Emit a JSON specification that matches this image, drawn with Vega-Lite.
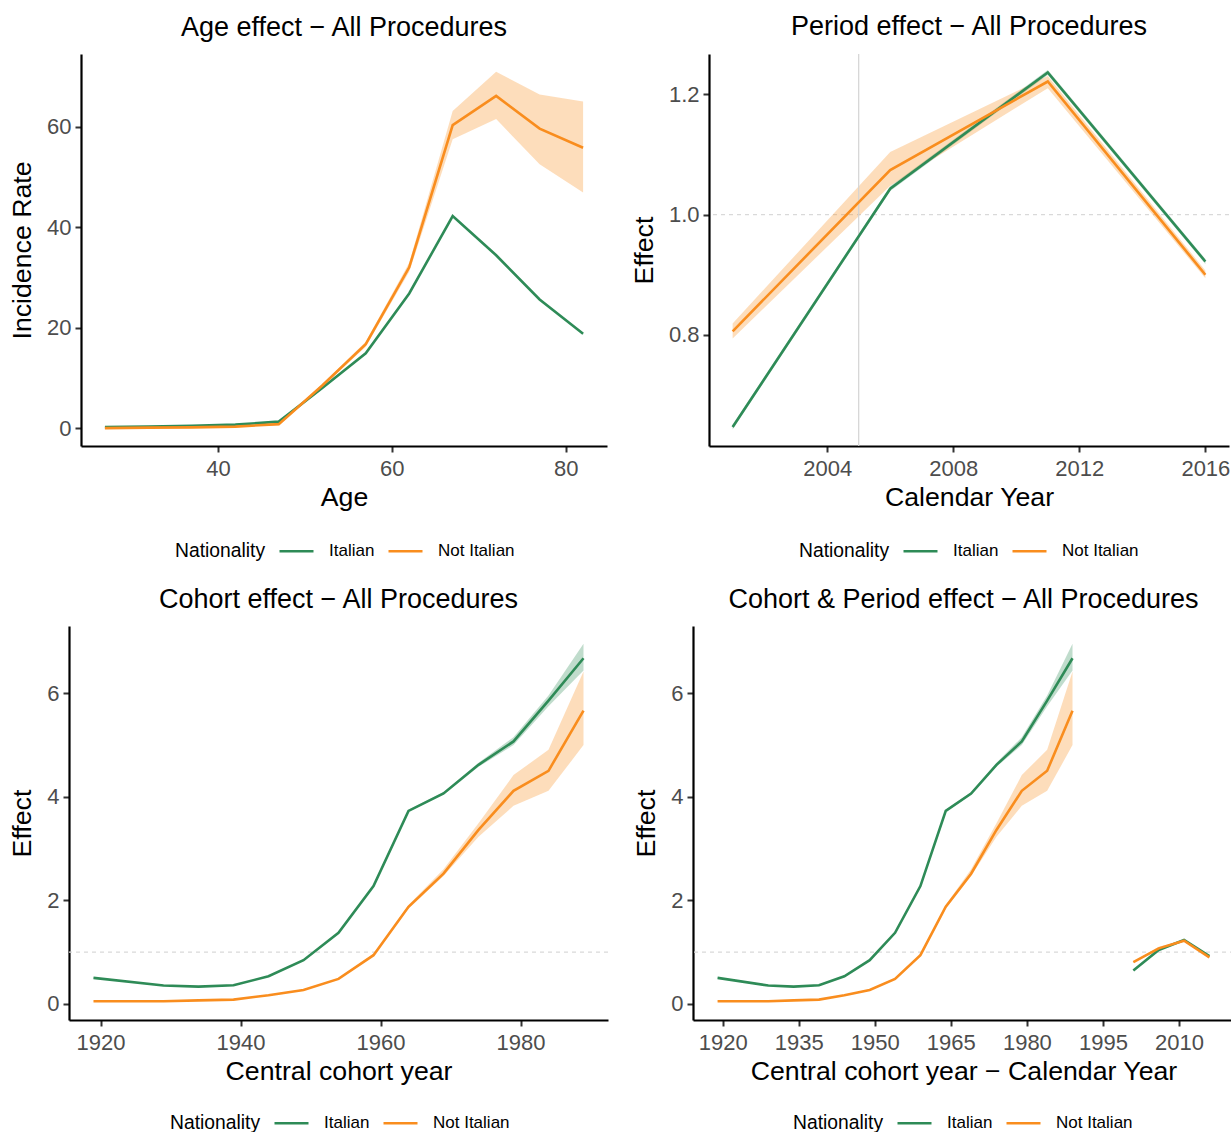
{
  "$schema": "https://vega.github.io/schema/vega-lite/v6.json",
  "padding": {"left": 0, "top": 13, "right": 0, "bottom": 0},
  "background": "white",
  "config": {
    "font": "Liberation Sans",
    "view": {"stroke": null},
    "axis": {"domainColor": "black", "domainWidth": 2.2, "tickColor": "#333333", "tickWidth": 2, "tickSize": 6, "labelFont": "Liberation Sans", "labelFontSize": 22, "labelColor": "#4D4D4D", "labelPadding": 4, "titleFont": "Liberation Sans", "titleFontSize": 26.7, "titleFontWeight": "normal", "titleColor": "black", "titlePadding": 10, "grid": false},
    "axisX": {"titlePadding": 5, "labelPadding": 6},
    "title": {"font": "Liberation Sans", "fontSize": 27, "fontWeight": "normal", "color": "black", "anchor": "middle", "offset": 12, "baseline": "alphabetic"},
    "legend": {"orient": "none", "direction": "horizontal", "titleOrient": "left", "titleFont": "Liberation Sans", "titleFontSize": 19.3, "titleFontWeight": "normal", "titleColor": "black", "titlePadding": 12, "titleBaseline": "line-top", "titleLineHeight": 11, "labelFont": "Liberation Sans", "labelFontSize": 17, "labelColor": "black", "labelOffset": 14, "columnPadding": 8, "symbolType": "stroke", "symbolSize": 1156, "symbolStrokeWidth": 2.7}
  },
  "datasets": {
    "spacer": [{}],
    "age": [
      {"Nationality": "Italian", "Age": 27, "Rate": 0.2, "Lower": 0.15, "Upper": 0.25},
      {"Nationality": "Italian", "Age": 32, "Rate": 0.3, "Lower": 0.25, "Upper": 0.35},
      {"Nationality": "Italian", "Age": 37, "Rate": 0.45, "Lower": 0.4, "Upper": 0.5},
      {"Nationality": "Italian", "Age": 42, "Rate": 0.7, "Lower": 0.65, "Upper": 0.75},
      {"Nationality": "Italian", "Age": 47, "Rate": 1.3, "Lower": 1.2, "Upper": 1.4},
      {"Nationality": "Italian", "Age": 52, "Rate": 8.0, "Lower": 7.8, "Upper": 8.2},
      {"Nationality": "Italian", "Age": 57, "Rate": 14.9, "Lower": 14.7, "Upper": 15.1},
      {"Nationality": "Italian", "Age": 62, "Rate": 26.8, "Lower": 26.6, "Upper": 27.0},
      {"Nationality": "Italian", "Age": 67, "Rate": 42.2, "Lower": 42.0, "Upper": 42.4},
      {"Nationality": "Italian", "Age": 72, "Rate": 34.4, "Lower": 34.2, "Upper": 34.6},
      {"Nationality": "Italian", "Age": 77, "Rate": 25.6, "Lower": 25.4, "Upper": 25.8},
      {"Nationality": "Italian", "Age": 82, "Rate": 18.8, "Lower": 18.6, "Upper": 19.0},
      {"Nationality": "Not Italian", "Age": 27, "Rate": 0.0, "Lower": -0.05, "Upper": 0.05},
      {"Nationality": "Not Italian", "Age": 32, "Rate": 0.1, "Lower": 0.05, "Upper": 0.15},
      {"Nationality": "Not Italian", "Age": 37, "Rate": 0.15, "Lower": 0.1, "Upper": 0.2},
      {"Nationality": "Not Italian", "Age": 42, "Rate": 0.3, "Lower": 0.2, "Upper": 0.4},
      {"Nationality": "Not Italian", "Age": 47, "Rate": 0.8, "Lower": 0.6, "Upper": 1.0},
      {"Nationality": "Not Italian", "Age": 52, "Rate": 8.5, "Lower": 8.2, "Upper": 8.8},
      {"Nationality": "Not Italian", "Age": 57, "Rate": 16.7, "Lower": 16.2, "Upper": 17.2},
      {"Nationality": "Not Italian", "Age": 62, "Rate": 32.0, "Lower": 31.1, "Upper": 32.9},
      {"Nationality": "Not Italian", "Age": 67, "Rate": 60.3, "Lower": 57.5, "Upper": 63.1},
      {"Nationality": "Not Italian", "Age": 72, "Rate": 66.1, "Lower": 61.5, "Upper": 70.9},
      {"Nationality": "Not Italian", "Age": 77, "Rate": 59.6, "Lower": 52.5, "Upper": 66.4},
      {"Nationality": "Not Italian", "Age": 82, "Rate": 55.8, "Lower": 46.9, "Upper": 65.0}
    ],
    "period": [
      {"Nationality": "Italian", "Year": 2001, "Effect": 0.647, "Lower": 0.643, "Upper": 0.651},
      {"Nationality": "Italian", "Year": 2006, "Effect": 1.043, "Lower": 1.039, "Upper": 1.047},
      {"Nationality": "Italian", "Year": 2011, "Effect": 1.236, "Lower": 1.232, "Upper": 1.240},
      {"Nationality": "Italian", "Year": 2016, "Effect": 0.922, "Lower": 0.918, "Upper": 0.926},
      {"Nationality": "Not Italian", "Year": 2001, "Effect": 0.806, "Lower": 0.794, "Upper": 0.819},
      {"Nationality": "Not Italian", "Year": 2006, "Effect": 1.074, "Lower": 1.048, "Upper": 1.104},
      {"Nationality": "Not Italian", "Year": 2011, "Effect": 1.221, "Lower": 1.210, "Upper": 1.230},
      {"Nationality": "Not Italian", "Year": 2016, "Effect": 0.900, "Lower": 0.894, "Upper": 0.907}
    ],
    "cohort": [
      {"Nationality": "Italian", "Cohort": 1919, "Effect": 0.503, "Lower": 0.49, "Upper": 0.515},
      {"Nationality": "Italian", "Cohort": 1929, "Effect": 0.355, "Lower": 0.345, "Upper": 0.365},
      {"Nationality": "Italian", "Cohort": 1934, "Effect": 0.335, "Lower": 0.325, "Upper": 0.345},
      {"Nationality": "Italian", "Cohort": 1939, "Effect": 0.361, "Lower": 0.351, "Upper": 0.371},
      {"Nationality": "Italian", "Cohort": 1944, "Effect": 0.535, "Lower": 0.525, "Upper": 0.545},
      {"Nationality": "Italian", "Cohort": 1949, "Effect": 0.845, "Lower": 0.835, "Upper": 0.855},
      {"Nationality": "Italian", "Cohort": 1954, "Effect": 1.374, "Lower": 1.36, "Upper": 1.39},
      {"Nationality": "Italian", "Cohort": 1959, "Effect": 2.277, "Lower": 2.26, "Upper": 2.295},
      {"Nationality": "Italian", "Cohort": 1964, "Effect": 3.729, "Lower": 3.71, "Upper": 3.75},
      {"Nationality": "Italian", "Cohort": 1969, "Effect": 4.065, "Lower": 4.04, "Upper": 4.09},
      {"Nationality": "Italian", "Cohort": 1974, "Effect": 4.619, "Lower": 4.58, "Upper": 4.66},
      {"Nationality": "Italian", "Cohort": 1979, "Effect": 5.071, "Lower": 5.0, "Upper": 5.15},
      {"Nationality": "Italian", "Cohort": 1984, "Effect": 5.858, "Lower": 5.75, "Upper": 5.96},
      {"Nationality": "Italian", "Cohort": 1989, "Effect": 6.677, "Lower": 6.44, "Upper": 6.955},
      {"Nationality": "Not Italian", "Cohort": 1919, "Effect": 0.052, "Lower": 0.045, "Upper": 0.06},
      {"Nationality": "Not Italian", "Cohort": 1929, "Effect": 0.052, "Lower": 0.045, "Upper": 0.06},
      {"Nationality": "Not Italian", "Cohort": 1934, "Effect": 0.07, "Lower": 0.062, "Upper": 0.078},
      {"Nationality": "Not Italian", "Cohort": 1939, "Effect": 0.084, "Lower": 0.075, "Upper": 0.093},
      {"Nationality": "Not Italian", "Cohort": 1944, "Effect": 0.168, "Lower": 0.158, "Upper": 0.178},
      {"Nationality": "Not Italian", "Cohort": 1949, "Effect": 0.271, "Lower": 0.26, "Upper": 0.282},
      {"Nationality": "Not Italian", "Cohort": 1954, "Effect": 0.484, "Lower": 0.47, "Upper": 0.498},
      {"Nationality": "Not Italian", "Cohort": 1959, "Effect": 0.942, "Lower": 0.92, "Upper": 0.965},
      {"Nationality": "Not Italian", "Cohort": 1964, "Effect": 1.877, "Lower": 1.84, "Upper": 1.91},
      {"Nationality": "Not Italian", "Cohort": 1969, "Effect": 2.516, "Lower": 2.47, "Upper": 2.6},
      {"Nationality": "Not Italian", "Cohort": 1974, "Effect": 3.361, "Lower": 3.23, "Upper": 3.49},
      {"Nationality": "Not Italian", "Cohort": 1979, "Effect": 4.116, "Lower": 3.826, "Upper": 4.42},
      {"Nationality": "Not Italian", "Cohort": 1984, "Effect": 4.503, "Lower": 4.116, "Upper": 4.91},
      {"Nationality": "Not Italian", "Cohort": 1989, "Effect": 5.665, "Lower": 5.0, "Upper": 6.42}
    ],
    "refEffect": [{"Effect": 1}],
    "refYear": [{"Year": 2005}]
  },
  "resolve": {"scale": {"stroke": "independent", "fill": "independent"}, "legend": {"stroke": "independent"}},
  "spacing": 24,
  "vconcat": [
    {
      "resolve": {"scale": {"stroke": "independent", "fill": "independent"}, "legend": {"stroke": "independent"}},
      "spacing": 24,
      "hconcat": [
        {
          "resolve": {"scale": {"stroke": "independent", "fill": "independent"}, "legend": {"stroke": "independent"}},
          "spacing": 8,
          "hconcat": [
            {"width": 1, "height": 1, "data": {"name": "spacer"}, "mark": {"type": "point", "opacity": 0, "size": 0}},
            {
              "width": 526, "height": 392,
              "title": {"text": "Age effect − All Procedures"},
              "layer": [
                {"data": {"name": "age"}, "mark": {"type": "area", "opacity": 0.3},
                 "encoding": {
                   "x": {"field": "Age", "type": "quantitative", "scale": {"domain": [24.25, 84.75], "nice": false, "zero": false}, "axis": {"values": [40, 60, 80], "title": "Age"}},
                   "y": {"field": "Lower", "type": "quantitative", "scale": {"domain": [-3.55, 74.45], "nice": false, "zero": false}, "axis": {"values": [0, 20, 40, 60], "title": "Incidence Rate"}},
                   "y2": {"field": "Upper"},
                   "fill": {"field": "Nationality", "type": "nominal", "scale": {"domain": ["Not Italian", "Italian"], "range": ["#F98D1E", "#2E8B57"]}, "legend": null}}},
                {"data": {"name": "age"}, "mark": {"type": "line", "strokeWidth": 2.6},
                 "encoding": {
                   "x": {"field": "Age", "type": "quantitative"},
                   "y": {"field": "Rate", "type": "quantitative"},
                   "stroke": {"field": "Nationality", "type": "nominal", "scale": {"domain": ["Italian", "Not Italian"], "range": ["#2E8B57", "#F98D1E"]}, "legend": {"title": "Nationality", "legendX": 94, "legendY": 478.5}}}}
              ]
            }
          ]
        },
        {
          "width": 520, "height": 392,
          "title": {"text": "Period effect − All Procedures"},
          "layer": [
            {"data": {"name": "refEffect"}, "mark": {"type": "rule", "color": "#D9D9D9", "strokeWidth": 1.2, "strokeDash": [4, 4]},
             "encoding": {"y": {"field": "Effect", "type": "quantitative"}}},
            {"data": {"name": "period"}, "mark": {"type": "area", "opacity": 0.3},
             "encoding": {
               "x": {"field": "Year", "type": "quantitative", "scale": {"domain": [2000.25, 2016.75], "nice": false, "zero": false}, "axis": {"values": [2004, 2008, 2012, 2016], "format": "d", "title": "Calendar Year"}},
               "y": {"field": "Lower", "type": "quantitative", "scale": {"domain": [0.6155, 1.2667], "nice": false, "zero": false}, "axis": {"values": [0.8, 1.0, 1.2], "format": ".1f", "title": "Effect"}},
               "y2": {"field": "Upper"},
               "fill": {"field": "Nationality", "type": "nominal", "scale": {"domain": ["Not Italian", "Italian"], "range": ["#F98D1E", "#2E8B57"]}, "legend": null}}},
            {"data": {"name": "refYear"}, "mark": {"type": "rule", "color": "#D3D3D3", "strokeWidth": 1.2},
             "encoding": {"x": {"field": "Year", "type": "quantitative"}}},
            {"data": {"name": "period"}, "mark": {"type": "line", "strokeWidth": 2.6},
             "encoding": {
               "x": {"field": "Year", "type": "quantitative"},
               "y": {"field": "Effect", "type": "quantitative"},
               "stroke": {"field": "Nationality", "type": "nominal", "scale": {"domain": ["Italian", "Not Italian"], "range": ["#2E8B57", "#F98D1E"]}, "legend": {"title": "Nationality", "legendX": 90, "legendY": 478.5}}}}
          ]
        }
      ]
    },
    {
      "resolve": {"scale": {"stroke": "independent", "fill": "independent"}, "legend": {"stroke": "independent"}},
      "spacing": 24,
      "hconcat": [
        {
          "resolve": {"scale": {"stroke": "independent", "fill": "independent"}, "legend": {"stroke": "independent"}},
          "spacing": 8,
          "hconcat": [
            {"width": 1, "height": 1, "data": {"name": "spacer"}, "mark": {"type": "point", "opacity": 0, "size": 0}},
            {
              "width": 539, "height": 394,
              "title": {"text": "Cohort effect − All Procedures"},
              "layer": [
                {"data": {"name": "refEffect"}, "mark": {"type": "rule", "color": "#D9D9D9", "strokeWidth": 1.2, "strokeDash": [4, 4]},
                 "encoding": {"y": {"field": "Effect", "type": "quantitative"}}},
                {"data": {"name": "cohort"}, "mark": {"type": "area", "opacity": 0.3},
                 "encoding": {
                   "x": {"field": "Cohort", "type": "quantitative", "scale": {"domain": [1915.5, 1992.5], "nice": false, "zero": false}, "axis": {"values": [1920, 1940, 1960, 1980], "format": "d", "title": "Central cohort year"}},
                   "y": {"field": "Lower", "type": "quantitative", "scale": {"domain": [-0.31, 7.3], "nice": false, "zero": false}, "axis": {"values": [0, 2, 4, 6], "title": "Effect"}},
                   "y2": {"field": "Upper"},
                   "fill": {"field": "Nationality", "type": "nominal", "scale": {"domain": ["Not Italian", "Italian"], "range": ["#F98D1E", "#2E8B57"]}, "legend": null}}},
                {"data": {"name": "cohort"}, "mark": {"type": "line", "strokeWidth": 2.6},
                 "encoding": {
                   "x": {"field": "Cohort", "type": "quantitative"},
                   "y": {"field": "Effect", "type": "quantitative"},
                   "stroke": {"field": "Nationality", "type": "nominal", "scale": {"domain": ["Italian", "Not Italian"], "range": ["#2E8B57", "#F98D1E"]}, "legend": {"title": "Nationality", "legendX": 101, "legendY": 478.5}}}}
              ]
            }
          ]
        },
        {
          "width": 541, "height": 394,
          "title": {"text": "Cohort & Period effect − All Procedures"},
          "layer": [
            {"data": {"name": "refEffect"}, "mark": {"type": "rule", "color": "#D9D9D9", "strokeWidth": 1.2, "strokeDash": [4, 4]},
             "encoding": {"y": {"field": "Effect", "type": "quantitative"}}},
            {"data": {"name": "cohort"}, "mark": {"type": "area", "opacity": 0.3},
             "encoding": {
               "x": {"field": "Cohort", "type": "quantitative", "scale": {"domain": [1914.15, 2020.85], "nice": false, "zero": false}, "axis": {"values": [1920, 1935, 1950, 1965, 1980, 1995, 2010], "format": "d", "title": "Central cohort year − Calendar Year"}},
               "y": {"field": "Lower", "type": "quantitative", "scale": {"domain": [-0.31, 7.3], "nice": false, "zero": false}, "axis": {"values": [0, 2, 4, 6], "title": "Effect"}},
               "y2": {"field": "Upper"},
               "fill": {"field": "Nationality", "type": "nominal", "scale": {"domain": ["Not Italian", "Italian"], "range": ["#F98D1E", "#2E8B57"]}, "legend": null}}},
            {"data": {"name": "period"}, "mark": {"type": "area", "opacity": 0.3},
             "encoding": {
               "x": {"field": "Year", "type": "quantitative"},
               "y": {"field": "Lower", "type": "quantitative"},
               "y2": {"field": "Upper"},
               "fill": {"field": "Nationality", "type": "nominal", "legend": null}}},
            {"data": {"name": "cohort"}, "mark": {"type": "line", "strokeWidth": 2.6},
             "encoding": {
               "x": {"field": "Cohort", "type": "quantitative"},
               "y": {"field": "Effect", "type": "quantitative"},
               "stroke": {"field": "Nationality", "type": "nominal", "scale": {"domain": ["Italian", "Not Italian"], "range": ["#2E8B57", "#F98D1E"]}, "legend": {"title": "Nationality", "legendX": 100, "legendY": 478.5}}}},
            {"data": {"name": "period"}, "mark": {"type": "line", "strokeWidth": 2.6},
             "encoding": {
               "x": {"field": "Year", "type": "quantitative"},
               "y": {"field": "Effect", "type": "quantitative"},
               "stroke": {"field": "Nationality", "type": "nominal"}}}
          ]
        }
      ]
    }
  ]
}
